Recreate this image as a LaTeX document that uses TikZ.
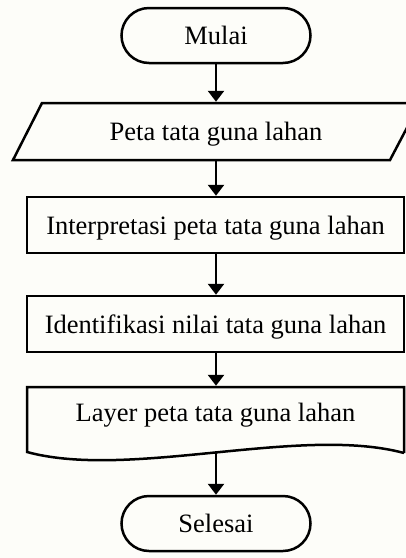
\documentclass[tikz,border=0pt]{standalone}
\usepackage{fontspec}
\setmainfont{Liberation Serif}
\usetikzlibrary{arrows.meta,shapes.misc}
\definecolor{paper}{RGB}{253,253,249}
\begin{document}
\begin{tikzpicture}[x=1pt,y=-1pt,
  line width=2.5pt,
  font=\fontsize{26.5}{30}\selectfont,
  every node/.style={inner sep=0pt, text height=18pt, text depth=0pt},
  terminal/.style={draw, rounded rectangle, minimum width=189pt, minimum height=55pt},
  process/.style={draw, rectangle, minimum width=377pt, minimum height=56pt},
  shapetext/.style={minimum width=300pt},
  flow/.style={-{Triangle[width=16pt,length=11pt]}}]

  % page
  \fill[paper] (0,0) rectangle (406,558);
  \clip (0,0) rectangle (406,558);

  % start
  \node[terminal] (mulai) at (216,35.5) {Mulai};

  % input: parallelogram
  \draw (42,103) -- (420,103) -- (390,160) -- (13,160) -- cycle;
  \node[shapetext, minimum height=57pt] (peta) at (216,131.5) {Peta tata guna lahan};

  % processes
  \node[process] (interp) at (215.5,225) {Interpretasi peta tata guna lahan};
  \node[process] (ident) at (215.5,324) {Identifikasi nilai tata guna lahan};

  % document with wavy bottom edge
  \draw (404,453) -- (404,387) -- (27,387) -- (27,452)
        .. controls (130,480) and (300,425) .. (404,453);
  \node[shapetext, minimum height=50pt] (layer) at (215.5,412) {Layer peta tata guna lahan};
  \coordinate (layerbottom) at (216,452.5);

  % end
  \node[terminal] (selesai) at (216,523.5) {Selesai};

  % connectors
  \draw[flow] (mulai.south) -- (mulai.south |- peta.north);
  \draw[flow] (peta.south) -- (peta.south |- interp.north);
  \draw[flow] (interp.south -| peta.south) -- (peta.south |- ident.north);
  \draw[flow] (ident.south -| peta.south) -- (peta.south |- layer.north);
  \draw[flow] (layerbottom) -- (selesai.north);
\end{tikzpicture}
\end{document}
